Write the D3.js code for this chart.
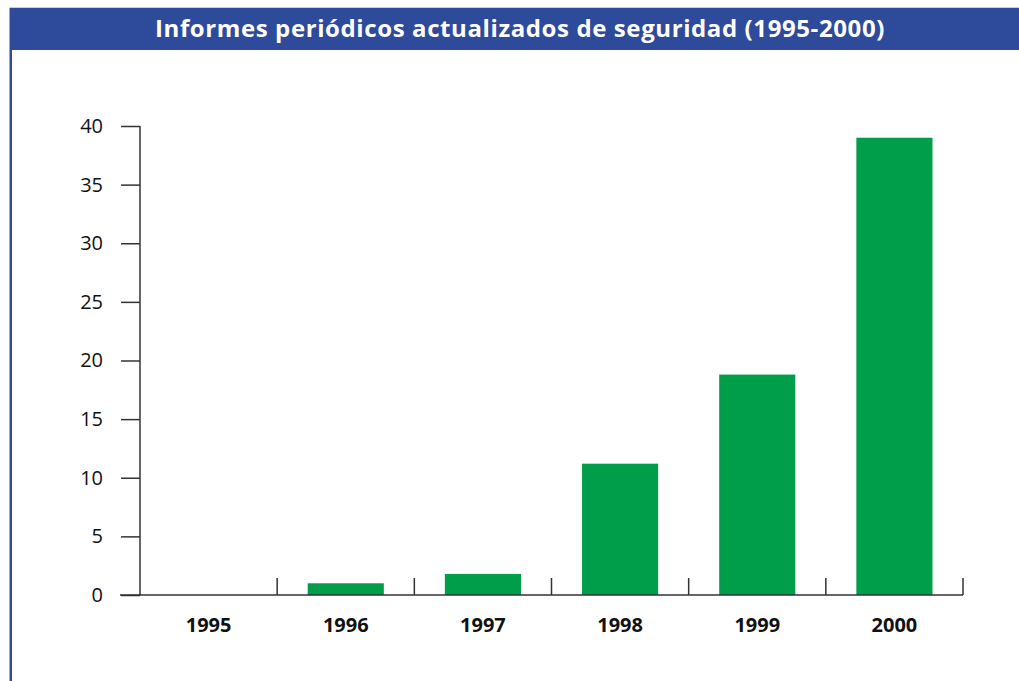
<!DOCTYPE html>
<html><head><meta charset="utf-8">
<script src="https://cdn.jsdelivr.net/npm/d3@7"></script>
<style>body{margin:0;background:#fff}svg{display:block}</style>
</head><body>
<svg id="c" width="1019" height="681"></svg>
<script>
const title = "Informes periódicos actualizados de seguridad (1995-2000)";
const years = ["1995","1996","1997","1998","1999","2000"];
const counts = [0, 1, 1.8, 11.2, 18.8, 39];
const yTicks = [0,5,10,15,20,25,30,35,40];

const svg = d3.select("#c");
const blue = "#2E4A9A", green = "#009E4B", axisCol = "#333";
// title bar
svg.append("rect").attr("x",9.5).attr("y",8).attr("width",1010).attr("height",42).attr("fill",blue);
svg.append("line").attr("x1",9.5).attr("x2",1019).attr("y1",7.5).attr("y2",7.5).attr("stroke","#c5cbe0").attr("stroke-width",1);
svg.append("rect").attr("x",9.5).attr("y",50).attr("width",2.5).attr("height",631).attr("fill",blue);
svg.append("text").attr("x",520).attr("y",36.5).attr("text-anchor","middle")
  .attr("fill","#fff").attr("font-family","Open Sans, sans-serif").attr("font-weight","bold")
  .attr("font-size",24).attr("letter-spacing",0.6).text(title);

const x = d3.scaleBand().domain(years).range([140,963]).paddingInner(0.445).paddingOuter(0.2225);
const y = d3.scaleLinear().domain([0,40]).range([595,126]);

svg.append("g").selectAll("rect").data(years).join("rect")
  .attr("x",d=>x(d)).attr("width",x.bandwidth())
  .attr("y",(d,i)=>y(counts[i])).attr("height",(d,i)=>y(0)-y(counts[i]))
  .attr("fill",green);

// y axis
const ya = svg.append("g").attr("transform","translate(140,0)")
  .call(d3.axisLeft(y).tickValues(yTicks).tickSize(19).tickPadding(18));
ya.select(".domain").attr("stroke",axisCol).attr("stroke-width",1.5).attr("d","M0,126V595");
ya.selectAll(".tick line").attr("stroke",axisCol).attr("stroke-width",1.5);
ya.selectAll(".tick text").attr("font-family","Open Sans, sans-serif").attr("font-size",20).attr("fill","#111");

// x axis
const step = x.step();
const xa = svg.append("g").attr("transform","translate(0,595)");
xa.append("line").attr("x1",120).attr("x2",963).attr("y1",0).attr("y2",0).attr("stroke",axisCol).attr("stroke-width",1.5);
const bounds = years.slice(1).map(d=>x(d) - (step - x.bandwidth())/2).concat([963]);
xa.selectAll("line.tk").data(bounds).join("line").attr("class","tk")
  .attr("x1",d=>d).attr("x2",d=>d).attr("y1",0).attr("y2",-17).attr("stroke",axisCol).attr("stroke-width",1.5);
xa.selectAll("text").data(years).join("text")
  .attr("x",d=>x(d)+x.bandwidth()/2).attr("y",37).attr("text-anchor","middle")
  .attr("font-family","Open Sans, sans-serif").attr("font-weight","bold").attr("font-size",20).attr("fill","#111")
  .text(d=>d);
</script>
</body></html>
